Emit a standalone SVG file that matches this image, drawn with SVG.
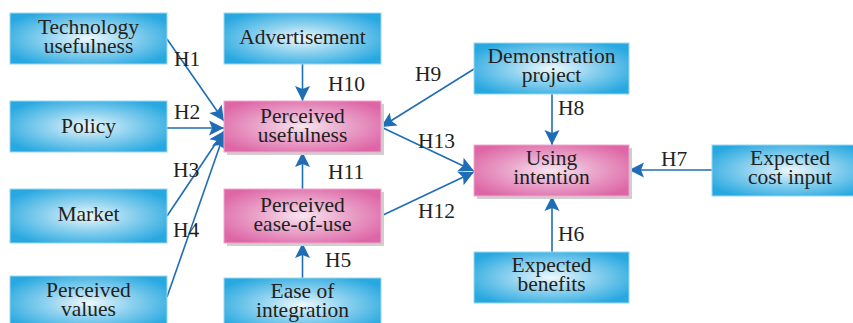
<svg xmlns="http://www.w3.org/2000/svg" xmlns:xlink="http://www.w3.org/1999/xlink" width="853" height="323" viewBox="0 0 853 323">
<defs>
<radialGradient id="gb" cx="50%" cy="50%" r="60%">
<stop offset="0" stop-color="#eef8fc"/>
<stop offset="0.45" stop-color="#8fd2ef"/>
<stop offset="1" stop-color="#27a8e0"/>
</radialGradient>
<radialGradient id="gp" cx="50%" cy="50%" r="60%">
<stop offset="0" stop-color="#f8e6f0"/>
<stop offset="0.45" stop-color="#eaa7cc"/>
<stop offset="1" stop-color="#de66a6"/>
</radialGradient>
<path id="hd" d="M0,0 L-15,-7.5 L-12,0 L-15,7.5 Z" fill="#1f6db5"/>
<style>
.b{fill:url(#gb);stroke:#9ad7f0;stroke-width:1}
.p{fill:url(#gp);stroke:#f0a8cc;stroke-width:1}
.s{fill:#cfcfcf}
.e{stroke:#1f6db5;stroke-width:1.6;fill:none}
</style>
</defs>
<g id="connectors">
<line class="e" x1="167" y1="39" x2="224" y2="121"/>
<use xlink:href="#hd" transform="translate(224,121) rotate(55.2)"/>
<line class="e" x1="167" y1="128" x2="224" y2="128"/>
<use xlink:href="#hd" transform="translate(224,128)"/>
<line class="e" x1="167" y1="216" x2="224" y2="131"/>
<use xlink:href="#hd" transform="translate(224,131) rotate(-56.2)"/>
<line class="e" x1="167" y1="297" x2="224" y2="134"/>
<use xlink:href="#hd" transform="translate(224,134) rotate(-70.7)"/>
<line class="e" x1="302.5" y1="64" x2="302.5" y2="101"/>
<use xlink:href="#hd" transform="translate(302.5,101) rotate(90)"/>
<line class="e" x1="302.5" y1="189" x2="302.5" y2="152"/>
<use xlink:href="#hd" transform="translate(302.5,152) rotate(-90)"/>
<line class="e" x1="302.5" y1="278" x2="302.5" y2="243"/>
<use xlink:href="#hd" transform="translate(302.5,243) rotate(-90)"/>
<line class="e" x1="474" y1="69" x2="381" y2="127"/>
<use xlink:href="#hd" transform="translate(381,127) rotate(148.1)"/>
<line class="e" x1="381" y1="127" x2="474" y2="171"/>
<use xlink:href="#hd" transform="translate(474,171) rotate(25.3)"/>
<line class="e" x1="381" y1="216" x2="474" y2="172"/>
<use xlink:href="#hd" transform="translate(474,172) rotate(-25.3)"/>
<line class="e" x1="552" y1="94" x2="552" y2="145"/>
<use xlink:href="#hd" transform="translate(552,145) rotate(90)"/>
<line class="e" x1="552" y1="252" x2="552" y2="196"/>
<use xlink:href="#hd" transform="translate(552,196) rotate(-90)"/>
<line class="e" x1="712" y1="170" x2="629" y2="170"/>
<use xlink:href="#hd" transform="translate(629,170) rotate(180)"/>
</g>
<g id="n-tech"><rect class="b" x="10" y="13" width="157" height="51"/><text font-family="Liberation Serif" font-size="21.5" fill="#231f20" text-anchor="middle" x="88.5" y="34">Technology</text><text font-family="Liberation Serif" font-size="21.5" fill="#231f20" text-anchor="middle" x="88.5" y="52.5">usefulness</text></g>
<g id="n-policy"><rect class="b" x="10" y="101" width="157" height="51"/><text font-family="Liberation Serif" font-size="21.5" fill="#231f20" text-anchor="middle" x="88.5" y="133">Policy</text></g>
<g id="n-market"><rect class="b" x="10" y="189" width="157" height="54"/><text font-family="Liberation Serif" font-size="21.5" fill="#231f20" text-anchor="middle" x="88.5" y="221">Market</text></g>
<g id="n-values"><rect class="b" x="10" y="276" width="157" height="54"/><text font-family="Liberation Serif" font-size="21.5" fill="#231f20" text-anchor="middle" x="88.5" y="297">Perceived</text><text font-family="Liberation Serif" font-size="21.5" fill="#231f20" text-anchor="middle" x="88.5" y="315.5">values</text></g>
<g id="n-adv"><rect class="b" x="224" y="13" width="157" height="51"/><text font-family="Liberation Serif" font-size="21.5" fill="#231f20" text-anchor="middle" x="302.5" y="44">Advertisement</text></g>
<g id="n-pu"><rect class="s" x="227" y="104" width="157" height="51"/><rect class="p" x="224" y="101" width="157" height="51"/><text font-family="Liberation Serif" font-size="21.5" fill="#231f20" text-anchor="middle" x="302.5" y="123">Perceived</text><text font-family="Liberation Serif" font-size="21.5" fill="#231f20" text-anchor="middle" x="302.5" y="142">usefulness</text></g>
<g id="n-peou"><rect class="s" x="227" y="192" width="157" height="54"/><rect class="p" x="224" y="189" width="157" height="54"/><text font-family="Liberation Serif" font-size="21.5" fill="#231f20" text-anchor="middle" x="302.5" y="212">Perceived</text><text font-family="Liberation Serif" font-size="21.5" fill="#231f20" text-anchor="middle" x="302.5" y="230.5">ease-of-use</text></g>
<g id="n-ease"><rect class="b" x="224" y="278" width="157" height="54"/><text font-family="Liberation Serif" font-size="21.5" fill="#231f20" text-anchor="middle" x="302.5" y="298">Ease of</text><text font-family="Liberation Serif" font-size="21.5" fill="#231f20" text-anchor="middle" x="302.5" y="317">integration</text></g>
<g id="n-demo"><rect class="b" x="474" y="43" width="155" height="51"/><text font-family="Liberation Serif" font-size="21.5" fill="#231f20" text-anchor="middle" x="551.5" y="63">Demonstration</text><text font-family="Liberation Serif" font-size="21.5" fill="#231f20" text-anchor="middle" x="551.5" y="82">project</text></g>
<g id="n-using"><rect class="s" x="477" y="148" width="155" height="51"/><rect class="p" x="474" y="145" width="155" height="51"/><text font-family="Liberation Serif" font-size="21.5" fill="#231f20" text-anchor="middle" x="551.5" y="165">Using</text><text font-family="Liberation Serif" font-size="21.5" fill="#231f20" text-anchor="middle" x="551.5" y="184">intention</text></g>
<g id="n-cost"><rect class="b" x="712" y="145" width="157" height="51"/><text font-family="Liberation Serif" font-size="21.5" fill="#231f20" text-anchor="middle" x="790" y="165">Expected</text><text font-family="Liberation Serif" font-size="21.5" fill="#231f20" text-anchor="middle" x="790" y="184">cost input</text></g>
<g id="n-benefit"><rect class="b" x="474" y="252" width="155" height="51"/><text font-family="Liberation Serif" font-size="21.5" fill="#231f20" text-anchor="middle" x="551.5" y="272">Expected</text><text font-family="Liberation Serif" font-size="21.5" fill="#231f20" text-anchor="middle" x="551.5" y="290.5">benefits</text></g>
<g id="labels" font-family="Liberation Serif" font-size="21.5" fill="#231f20">
<text font-family="Liberation Serif" x="174" y="66">H1</text>
<text font-family="Liberation Serif" x="174" y="119">H2</text>
<text font-family="Liberation Serif" x="173" y="177">H3</text>
<text font-family="Liberation Serif" x="173" y="237">H4</text>
<text font-family="Liberation Serif" x="328" y="91">H10</text>
<text font-family="Liberation Serif" x="328" y="179">H11</text>
<text font-family="Liberation Serif" x="325" y="267">H5</text>
<text font-family="Liberation Serif" x="415" y="81">H9</text>
<text font-family="Liberation Serif" x="418" y="148">H13</text>
<text font-family="Liberation Serif" x="418" y="218">H12</text>
<text font-family="Liberation Serif" x="558" y="115">H8</text>
<text font-family="Liberation Serif" x="558" y="241">H6</text>
<text font-family="Liberation Serif" x="661" y="166">H7</text>
</g>
</svg>
